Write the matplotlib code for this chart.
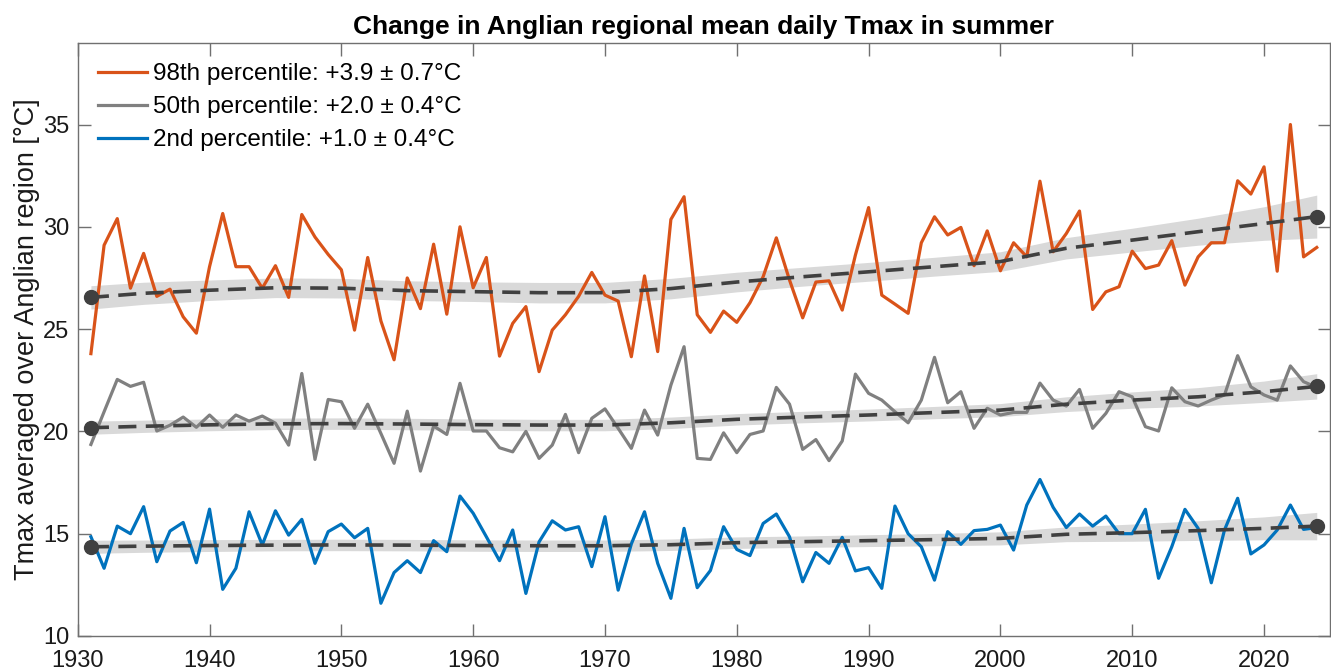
import matplotlib

matplotlib.use("Agg")
import matplotlib.pyplot as plt
import numpy as np

plt.rcParams["font.family"] = ["Liberation Sans", "DejaVu Sans"]

YEARS = np.arange(1931, 2025)

T98 = [
    23.8, 29.1, 30.4, 27.0, 28.7, 26.6, 26.95, 25.6, 24.8, 28.05,
    30.65, 28.05, 28.05, 27.0, 28.1, 26.55, 30.6, 29.5, 28.65, 27.9,
    24.95, 28.5, 25.4, 23.5, 27.5, 26.0, 29.15, 25.73, 30.0, 27.02,
    28.5, 23.68, 25.28, 26.1, 22.92, 24.95, 25.7, 26.6, 27.77, 26.66,
    26.37, 23.65, 27.6, 23.9, 30.36, 31.47, 25.7, 24.84, 25.88, 25.33,
    26.29, 27.56, 29.46, 27.4, 25.55, 27.3, 27.36, 25.93, 28.62, 30.94,
    26.66, 26.22, 25.77, 29.22, 30.49, 29.6, 29.97, 28.1, 29.8, 27.85,
    29.22, 28.53, 32.23, 28.78, 29.67, 30.77, 25.96, 26.82, 27.07, 28.81,
    27.96, 28.13, 29.32, 27.15, 28.53, 29.22, 29.22, 32.25, 31.6, 32.93,
    27.83, 35.0, 28.53, 28.99,
]

T50 = [
    19.36, 20.96, 22.54, 22.2, 22.4, 20.02, 20.3, 20.7, 20.2, 20.8,
    20.2, 20.8, 20.5, 20.75, 20.4, 19.33, 22.83, 18.63, 21.56, 21.45,
    20.15, 21.33, 19.9, 18.44, 20.99, 18.06, 20.26, 19.85, 22.35, 20.02,
    20.02, 19.2, 19.0, 20.0, 18.68, 19.33, 20.83, 18.96, 20.64, 21.1,
    20.15, 19.17, 21.04, 19.82, 22.26, 24.14, 18.68, 18.63, 19.93, 18.96,
    19.85, 20.02, 22.15, 21.33, 19.12, 19.6, 18.57, 19.53, 22.8, 21.86,
    21.53, 20.96, 20.42, 21.53, 23.62, 21.4, 21.94, 20.15, 21.13, 20.8,
    20.93, 20.93, 22.36, 21.53, 21.24, 22.05, 20.15, 20.88, 21.94, 21.69,
    20.23, 20.02, 22.13, 21.45, 21.24, 21.53, 21.78, 23.7, 22.18, 21.78,
    21.53, 23.2, 22.43, 22.15,
]

T02 = [
    14.85, 13.31, 15.37, 15.0, 16.32, 13.63, 15.13, 15.55, 13.58, 16.2,
    12.28, 13.31, 16.07, 14.45, 16.12, 14.93, 15.7, 13.55, 15.1, 15.47,
    14.8, 15.26, 11.6, 13.1, 13.68, 13.1, 14.66, 14.12, 16.84, 16.0,
    14.85, 13.68, 15.18, 12.08, 14.6, 15.63, 15.18, 15.34, 13.39, 15.83,
    12.24, 14.5, 16.07, 13.55, 11.84, 15.26, 12.36, 13.2, 15.34, 14.23,
    13.93, 15.5, 15.96, 14.85, 12.65, 14.08, 13.55, 14.82, 13.18, 13.34,
    12.33, 16.35, 15.0, 14.36, 12.73, 15.1, 14.48, 15.15, 15.21, 15.42,
    14.2, 16.4, 17.65, 16.29, 15.3, 15.96, 15.37, 15.86, 15.0, 15.0,
    16.19, 12.82, 14.36, 16.19, 15.26, 12.6, 15.18, 16.73, 14.01, 14.45,
    15.18, 16.4, 15.21, 15.3,
]

# fitted trend and its uncertainty, read at anchor years
TREND_YEARS = [1931, 1935, 1940, 1945, 1950, 1955, 1960, 1965, 1970, 1975,
               1980, 1985, 1990, 1995, 2000, 2005, 2010, 2015, 2020, 2024]
TREND98 = [26.55, 26.75, 26.9, 27.02, 27.0, 26.88, 26.83, 26.78, 26.78, 26.98,
           27.3, 27.56, 27.8, 28.05, 28.3, 28.95, 29.35, 29.76, 30.16, 30.5]
BAND98 = [0.57, 0.54, 0.5, 0.48, 0.48, 0.48, 0.48, 0.5, 0.5, 0.5,
          0.48, 0.46, 0.46, 0.46, 0.48, 0.52, 0.58, 0.66, 0.82, 1.05]
TREND50 = [20.18, 20.25, 20.32, 20.37, 20.38, 20.36, 20.33, 20.31, 20.31, 20.42,
           20.59, 20.7, 20.8, 20.92, 21.04, 21.33, 21.53, 21.69, 21.94, 22.2]
BAND50 = [0.32, 0.3, 0.29, 0.28, 0.28, 0.28, 0.28, 0.28, 0.28, 0.28,
          0.28, 0.28, 0.29, 0.3, 0.32, 0.36, 0.4, 0.45, 0.52, 0.62]
TREND02 = [14.36, 14.39, 14.42, 14.44, 14.45, 14.44, 14.42, 14.41, 14.41, 14.46,
           14.56, 14.61, 14.66, 14.71, 14.77, 14.97, 15.05, 15.15, 15.26, 15.37]
BAND02 = [0.32, 0.3, 0.29, 0.28, 0.28, 0.28, 0.28, 0.28, 0.28, 0.28,
          0.28, 0.28, 0.29, 0.3, 0.32, 0.36, 0.42, 0.48, 0.56, 0.67]

LABELS = [
    "98th percentile: +3.9 ± 0.7°C",
    "50th percentile: +2.0 ± 0.4°C",
    "2nd percentile: +1.0 ± 0.4°C",
]
COLORS = ["#D95319", "#808080", "#0072BD"]


def main() -> None:
    fig = plt.figure(figsize=(13.31, 6.71), dpi=100)
    ax = fig.add_axes([0.0584, 0.0522, 0.9408, 0.8842])

    series = [
        (T98, TREND98, BAND98),
        (T50, TREND50, BAND50),
        (T02, TREND02, BAND02),
    ]
    tx = np.array(TREND_YEARS)
    for (vals, trend, band), color, label in zip(series, COLORS, LABELS):
        trend = np.array(trend)
        band = np.array(band)
        ax.fill_between(tx, trend - band, trend + band, color="#d9d9d9",
                        linewidth=0, zorder=1)
        ax.plot(YEARS, vals, color=color, lw=2.3, label=label, zorder=2)
        ax.plot(tx, trend, color="#404040", lw=2.6, ls=(0, (5, 2.6)), zorder=3)
        ax.plot([tx[0], tx[-1]], [trend[0], trend[-1]], "o", color="#404040",
                markersize=10, zorder=4, clip_on=False)

    ax.set_xlim(1930, 2025)
    ax.set_ylim(10, 39)
    ax.set_xticks(np.arange(1930, 2021, 10))
    ax.set_yticks(np.arange(10, 36, 5))
    ax.tick_params(direction="in", length=9, width=1.0, color="#707070",
                   labelsize=17, labelcolor="#1a1a1a", top=True, right=True)
    ax.tick_params(axis="x", pad=10)
    ax.tick_params(axis="y", pad=6)
    for s in ax.spines.values():
        s.set_color("#707070")
        s.set_linewidth(1.0)

    ax.set_ylabel("Tmax averaged over Anglian region [°C]", fontsize=19.5,
                  color="#1a1a1a", labelpad=2)
    ax.set_title("Change in Anglian regional mean daily Tmax in summer",
                 fontsize=19, fontweight="bold", pad=6)

    ax.legend(loc="upper left", frameon=False, fontsize=17.5, handlelength=2.0,
              handletextpad=0.25, labelspacing=0.45, borderaxespad=0.45,
              bbox_to_anchor=(0.0, 1.0))

    fig.savefig("out.png", dpi=100)


if __name__ == "__main__":
    main()
